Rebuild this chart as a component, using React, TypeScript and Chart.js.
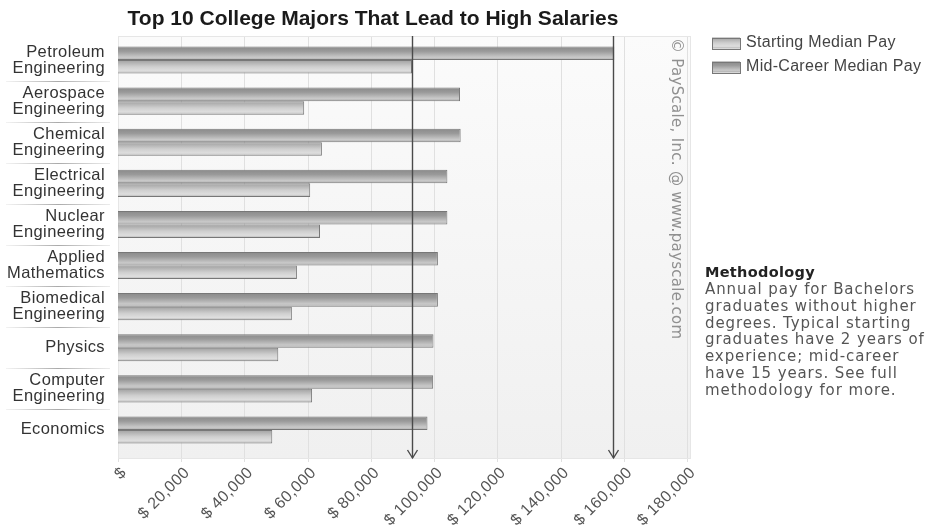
import React, { useEffect, useRef } from "react";
import { Chart, registerables } from "chart.js";

Chart.register(...registerables);

const chartTitle = "Top 10 College Majors That Lead to High Salaries";
const categories: (string | string[])[] = [
  ["Petroleum", "Engineering"],
  ["Aerospace", "Engineering"],
  ["Chemical", "Engineering"],
  ["Electrical", "Engineering"],
  ["Nuclear", "Engineering"],
  ["Applied", "Mathematics"],
  ["Biomedical", "Engineering"],
  "Physics",
  ["Computer", "Engineering"],
  "Economics",
];
const seriesLabels = ["Starting Median Pay", "Mid-Career Median Pay"];
const startingPay = [93000, 58900, 64500, 60800, 63900, 56600, 55000, 50700, 61400, 48800];
const midCareerPay = [157000, 108200, 108400, 104200, 104200, 101200, 101200, 99800, 99700, 97900];
const markerValues = [93000, 156500];
const xMin = 0;
const xMax = 180000;
const xStep = 20000;
const methodologyTitle = "Methodology";
const methodologyLines = [
  "Annual pay for Bachelors",
  "graduates without higher",
  "degrees. Typical starting",
  "graduates have 2 years of",
  "experience; mid-career",
  "have 15 years. See full",
  "methodology for more.",
];
const watermarkText = "\u00A9 PayScale, Inc. @ www.payscale.com";

const CATEGORY_PCT = 0.66;
const SANS = "'Liberation Sans', Arial, sans-serif";
const VERD = "'DejaVu Sans', Verdana, sans-serif";

type Stops = [number, string][];
const midStops: Stops = [
  [0, "#8a8a8a"],
  [0.35, "#9a9a9a"],
  [0.8, "#c9c9c9"],
  [1, "#aeaeae"],
];
const startStops: Stops = [
  [0, "#a0a0a0"],
  [0.5, "#cfcfcf"],
  [0.8, "#dedede"],
  [1, "#b2b2b2"],
];

function makeGradient(c: CanvasRenderingContext2D, top: number, h: number, stops: Stops) {
  const g = c.createLinearGradient(0, top, 0, top + h);
  stops.forEach(([o, col]) => g.addColorStop(o, col));
  return g;
}

function barFill(stops: Stops, slot: number) {
  return (ctx: any) => {
    const chart = ctx.chart;
    const y = chart.scales && chart.scales.y;
    if (!y || typeof ctx.dataIndex !== "number") return stops[1][1];
    const c = y.getPixelForValue(ctx.dataIndex);
    const catH = Math.abs(y.getPixelForValue(1) - y.getPixelForValue(0));
    if (!isFinite(c) || !isFinite(catH) || catH === 0) return stops[1][1];
    const groupH = catH * CATEGORY_PCT;
    const barH = groupH / 2;
    const top = c - groupH / 2 + slot * barH;
    return makeGradient(chart.ctx, top, barH, stops);
  };
}

const legendStops = [startStops, midStops];

const decorPlugin = {
  id: "decor",
  beforeDraw(chart: any) {
    const { ctx, chartArea: a, scales } = chart;
    const x = scales.x;
    const top = a.top - 3.5;
    const bottom = a.bottom + 7.5;
    const right = a.right + 3;
    ctx.save();
    ctx.fillStyle = "#ffffff";
    ctx.fillRect(0, 0, chart.width, chart.height);
    const bg = ctx.createLinearGradient(0, top, 0, bottom);
    bg.addColorStop(0, "#fbfbfb");
    bg.addColorStop(1, "#f0f0f0");
    ctx.fillStyle = bg;
    ctx.fillRect(a.left, top, right - a.left, bottom - top);
    ctx.strokeStyle = "#e0e0e0";
    ctx.lineWidth = 1;
    x.ticks.forEach((t: any) => {
      const px = Math.round(x.getPixelForValue(t.value)) + 0.5;
      ctx.beginPath();
      ctx.moveTo(px, top);
      ctx.lineTo(px, bottom + 4);
      ctx.stroke();
    });
    ctx.strokeStyle = "#e6e6e6";
    ctx.strokeRect(Math.round(a.left) + 0.5, Math.round(top) + 0.5, Math.round(right - a.left), Math.round(bottom - top));
    ctx.restore();
    // slightly widen the axis label text, as in the reference
    try {
      (ctx as any).letterSpacing = "0.4px";
    } catch (e) {}
  },
  afterDatasetsDraw(chart: any) {
    const { ctx, chartArea: a, scales } = chart;
    const x = scales.x;
    const top = a.top - 3.5;
    const bottom = a.bottom + 7.5;
    ctx.save();
    ctx.strokeStyle = "#4a4a4a";
    ctx.lineWidth = 1.4;
    markerValues.forEach((v) => {
      const px = Math.round(x.getPixelForValue(v)) + 0.5;
      ctx.beginPath();
      ctx.moveTo(px, top);
      ctx.lineTo(px, bottom);
      ctx.stroke();
      ctx.beginPath();
      ctx.moveTo(px - 5, bottom - 8);
      ctx.lineTo(px, bottom);
      ctx.lineTo(px + 5, bottom - 8);
      ctx.stroke();
    });
    ctx.restore();
  },
  afterDraw(chart: any) {
    const { ctx, chartArea: a, scales } = chart;
    const y = scales.y;
    ctx.save();
    (ctx as any).letterSpacing = "0px";
    // title
    ctx.fillStyle = "#1a1a1a";
    ctx.font = `bold 21px ${SANS}`;
    ctx.textAlign = "center";
    ctx.textBaseline = "alphabetic";
    ctx.fillText(chartTitle, 373, 25);

    // category separators
    ctx.lineWidth = 1;
    for (let i = 1; i < categories.length; i++) {
      const py = Math.round((y.getPixelForValue(i - 1) + y.getPixelForValue(i)) / 2) + 0.5;
      const g = ctx.createLinearGradient(6, 0, a.left - 8, 0);
      g.addColorStop(0, "rgba(190,190,190,0.2)");
      g.addColorStop(0.5, "rgba(170,170,170,1)");
      g.addColorStop(1, "rgba(190,190,190,0.3)");
      ctx.strokeStyle = g;
      ctx.beginPath();
      ctx.moveTo(6, py);
      ctx.lineTo(a.left - 8, py);
      ctx.stroke();
    }

    // watermark
    ctx.save();
    ctx.translate(676, 38);
    ctx.rotate(Math.PI / 2);
    ctx.fillStyle = "#909090";
    ctx.font = `15px ${VERD}`;
    (ctx as any).letterSpacing = "0.3px";
    ctx.textAlign = "left";
    ctx.textBaseline = "middle";
    ctx.fillText(watermarkText, 0, 0);
    ctx.restore();

    // legend
    const rows = [43, 67];
    seriesLabels.forEach((lab, i) => {
      const ry = rows[i];
      const bx = 712;
      const by = ry - 5.5;
      ctx.fillStyle = makeGradient(ctx, by, 11, legendStops[i]);
      ctx.fillRect(bx, by, 28, 11);
      ctx.strokeStyle = "#777777";
      ctx.lineWidth = 1;
      ctx.strokeRect(bx + 0.5, Math.round(by) + 0.5, 28, 11);
      ctx.fillStyle = "#444444";
      ctx.font = `16px ${SANS}`;
      (ctx as any).letterSpacing = "0.3px";
      ctx.textAlign = "left";
      ctx.textBaseline = "middle";
      ctx.fillText(lab, 746, ry);
    });

    // methodology
    const mx = 705;
    let my = 273;
    ctx.textAlign = "left";
    ctx.textBaseline = "middle";
    ctx.fillStyle = "#222222";
    ctx.font = `bold 14.5px ${VERD}`;
    (ctx as any).letterSpacing = "0.3px";
    ctx.fillText(methodologyTitle, mx, my);
    ctx.fillStyle = "#555555";
    ctx.font = `15px ${VERD}`;
    (ctx as any).letterSpacing = "0.9px";
    methodologyLines.forEach((ln) => {
      my += 16.9;
      ctx.fillText(ln, mx, my);
    });
    ctx.restore();
  },
};

export default function App() {
  const ref = useRef<HTMLCanvasElement | null>(null);
  useEffect(() => {
    if (!ref.current) return;
    const chart = new Chart(ref.current, {
      type: "bar",
      data: {
        labels: categories as any,
        datasets: [
          {
            label: seriesLabels[1],
            data: midCareerPay,
            backgroundColor: barFill(midStops, 0) as any,
            borderColor: "#777777",
            borderWidth: 1,
          },
          {
            label: seriesLabels[0],
            data: startingPay,
            backgroundColor: barFill(startStops, 1) as any,
            borderColor: "#777777",
            borderWidth: 1,
          },
        ],
      },
      options: {
        indexAxis: "y",
        animation: false,
        responsive: true,
        maintainAspectRatio: false,
        layout: { padding: { top: 39.5, right: 245, bottom: 0, left: 0 } },
        datasets: { bar: { categoryPercentage: CATEGORY_PCT, barPercentage: 1 } },
        plugins: {
          legend: { display: false },
          title: { display: false },
          tooltip: { enabled: false },
        },
        scales: {
          x: {
            type: "linear",
            position: "bottom",
            min: xMin,
            max: xMax,
            grid: { display: false },
            border: { display: false },
            ticks: {
              stepSize: xStep,
              autoSkip: false,
              minRotation: 45,
              maxRotation: 45,
              padding: 5,
              labelOffset: 6,
              color: "#555555",
              font: { family: SANS, size: 16 },
              callback: (v: any) => (Number(v) === 0 ? "$" : "$ " + Number(v).toLocaleString("en-US")),
            },
            afterFit: (s: any) => {
              s.height = 75.5;
            },
          },
          y: {
            type: "category",
            grid: { display: false },
            border: { display: false },
            ticks: {
              padding: 5,
              color: "#333333",
              font: { family: SANS, size: 16.5, lineHeight: 0.98 },
              autoSkip: false,
            },
            afterFit: (s: any) => {
              s.width = 118;
            },
          },
        },
      },
      plugins: [decorPlugin],
    });
    return () => chart.destroy();
  }, []);
  return (
    <div style={{ position: "fixed", left: 0, top: 0, width: 932, height: 526, background: "#fff" }}>
      <canvas ref={ref} />
    </div>
  );
}
